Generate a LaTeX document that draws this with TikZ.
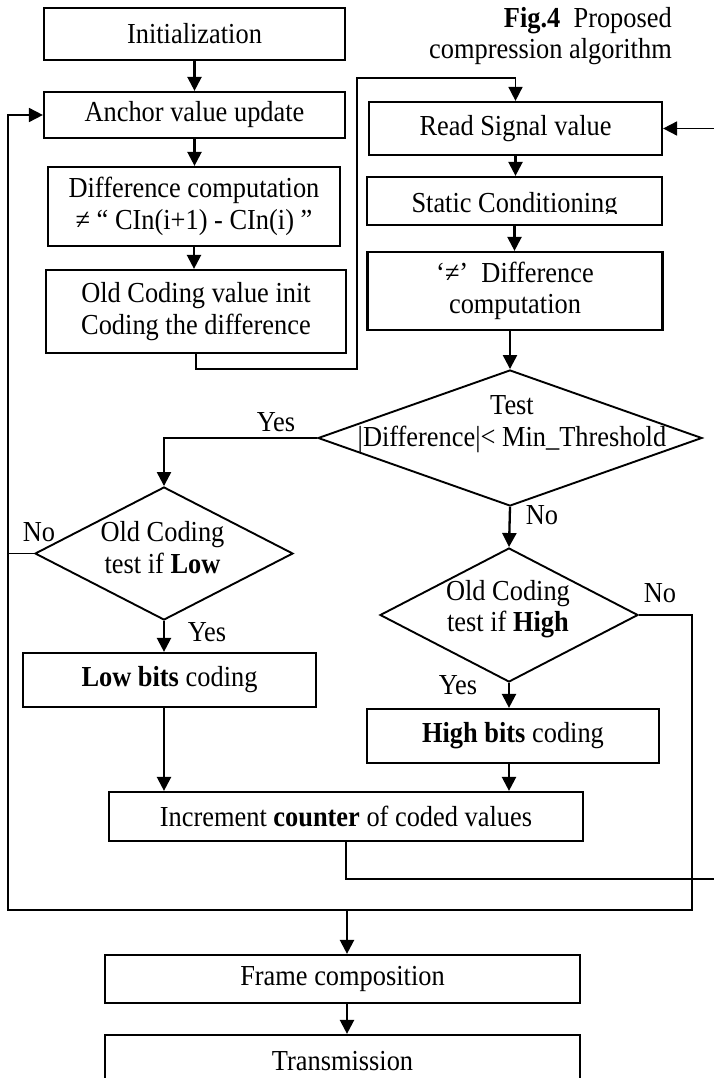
\documentclass[tikz,border=0pt]{standalone}
\usepackage{fontspec}
\setmainfont{Liberation Serif}[FakeStretch=0.91]
\usetikzlibrary{arrows.meta,shapes.geometric}
\begin{document}
\begin{tikzpicture}[x=1pt,y=-1pt,
 every node/.style={font=\fontsize{29}{31.5}\selectfont, text=black},
 box/.style={draw, line width=2.2pt, rectangle, inner sep=0pt, align=center},
 dia/.style={draw, line width=1.9pt, diamond, inner sep=0pt},
 lbl/.style={inner sep=0pt, align=center},
 arr/.style={line width=2.3pt, -{Triangle[length=14pt,width=14pt]}},
 ln/.style={line width=1.8pt},
]
\useasboundingbox[fill=white] (0,0) rectangle (713,1078);

% left column
\node[box, minimum width=301pt, minimum height=52pt] (init) at (194.5,34) {Initialization};
\node[box, minimum width=301pt, minimum height=46pt] (anchor) at (194.5,115) {Anchor value update};
\node[box, minimum width=292pt, minimum height=79pt] (diff1) at (194,206.5) {Difference computation\\≠ “ CIn(i+1) - CIn(i) ”};
\node[box, minimum width=300pt, minimum height=83pt] (old) at (196,311.5) {Old Coding value init\\Coding the difference};

% right column
\node[box, minimum width=293pt, minimum height=53pt] (read) at (515.5,128.5) {Read Signal value};
\node[box, minimum width=295pt, minimum height=48pt] (static) at (514.5,201) {};
\begin{scope}
\clip (367,177) rectangle (662,213.5);
\node[lbl, anchor=base] (statictext) at (514.5,212) {Static Conditioning};
\end{scope}
\node[box, minimum width=295pt, minimum height=78pt] (diff2) at (515,291) {‘≠’\ \ Difference\\computation};

% caption
\node[lbl, align=right, anchor=east] (cap) at (672,36) {\textbf{Fig.4}\ \ Proposed\\compression algorithm};

% decisions
\node[dia, minimum width=384pt, minimum height=136pt] (test) at (510,438) {};
\node[lbl] (testtext) at (512,424) {Test\\|Difference|< Min\_Threshold};
\node[dia, minimum width=258pt, minimum height=133pt] (low) at (164,553.5) {};
\node[lbl] (lowtext) at (162.5,547.5) {Old Coding\\test if \textbf{Low}};
\node[dia, minimum width=258pt, minimum height=134pt] (high) at (509,615) {};
\node[lbl] (hightext) at (508,609) {Old Coding\\test if \textbf{High}};

% coding boxes
\node[box, minimum width=293pt, minimum height=54pt] (lowbits) at (169.5,680) {\textbf{Low bits} coding};
\node[box, minimum width=292pt, minimum height=54pt] (highbits) at (513,736) {\textbf{High bits} coding};
\node[box, minimum width=474pt, minimum height=49pt] (inc) at (346,816.5) {Increment \textbf{counter} of coded values};
\node[box, minimum width=475pt, minimum height=48pt] (frame) at (342.5,979) {Frame composition};
\node[box, minimum width=475pt, minimum height=52pt] (trans) at (342.5,1061) {Transmission};

% labels
\node[lbl] (yes1) at (276,422) {Yes};
\node[lbl] (no1) at (39,532) {No};
\node[lbl] (yes2) at (207,632) {Yes};
\node[lbl] (no2) at (542,515) {No};
\node[lbl] (no3) at (660,593) {No};
\node[lbl] (yes3) at (458,685) {Yes};

% coordinates
\coordinate (ua) at (357,369);
\coordinate (ub) at (357,78);
\coordinate (r1) at (692,910);
\coordinate (l1) at (8,910);
\coordinate (j) at (347,910);
\coordinate (rr) at (720,879);

% connectors
\draw[arr] (init.south) -- (init.south |- anchor.north);
\draw[arr] (anchor.south) -- (anchor.south |- diff1.north);
\draw[arr] (diff1.south) -- (diff1.south |- old.north);
\draw[arr, line width=1.7pt] (old.south) |- (ua) -- (ub) -| (read.north);
\draw[arr] (read.south) -- (read.south |- static.north);
\draw[arr] (static.south) -- (static.south |- diff2.north);
\draw[arr] (test.north |- diff2.south) -- (test.north);
\draw[arr] (test.west) -| (low.north);
\draw[arr] (test.south) -- (high.north);
\draw[arr] (low.south) -- (low.south |- lowbits.north);
\draw[arr] (high.south) -- (high.south |- highbits.north);
\draw[arr] (low.south |- lowbits.south) -- (low.south |- inc.north);
\draw[arr] (high.south |- highbits.south) -- (high.south |- inc.north);
\draw[arr, line width=1.8pt] (high.east) -| (r1) -- (l1) |- (anchor.west);
\draw[ln] (low.west) -- (low.west -| l1);
\draw[arr] (j) -- (j |- frame.north);
\draw[arr] (j |- frame.south) -- (j |- trans.north);
\draw[arr, line width=1.8pt] (inc.south) |- (rr) |- (read.east);
\end{tikzpicture}
\end{document}
